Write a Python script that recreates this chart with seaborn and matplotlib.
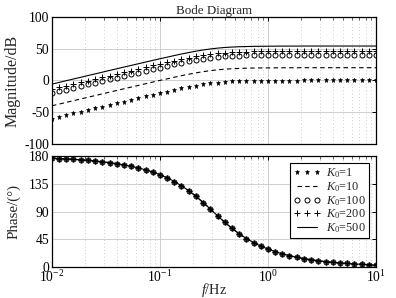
import numpy as np
import pandas as pd
import seaborn as sns
from matplotlib import pyplot as plt
import matplotlib.ticker as plticker

# frequency points (Hz)
freq = [0.01, 0.0117, 0.0136, 0.0158, 0.0185, 0.0215, 0.0251, 0.0293, 0.0341, 0.0398,
        0.0464, 0.0541, 0.0631, 0.0736, 0.0858, 0.1, 0.117, 0.136, 0.158, 0.185,
        0.215, 0.251, 0.293, 0.341, 0.398, 0.464, 0.541, 0.631, 0.736, 0.858,
        1.0, 1.17, 1.36, 1.58, 1.85, 2.15, 2.51, 2.93, 3.41, 3.98,
        4.64, 5.41, 6.31, 7.36, 8.58, 10.0]

mag_k1 = [-59.7, -57.0, -54.3, -51.7, -49.0, -46.3, -43.7, -41.0, -38.3, -35.7,
          -33.0, -30.4, -27.8, -25.1, -22.5, -19.9, -17.4, -14.9, -12.5, -10.2,
          -8.1, -6.2, -4.6, -3.3, -2.3, -1.6, -1.1, -0.8, -0.5, -0.4,
          -0.3, -0.2, -0.1, -0.1, -0.1, 0.0, 0.0, 0.0, 0.0, 0.0,
          0.0, 0.0, 0.0, 0.0, 0.0, 0.0]
mag_k10 = [-39.7, -37.0, -34.3, -31.7, -29.0, -26.3, -23.7, -21.0, -18.3, -15.7,
           -13.0, -10.4, -7.8, -5.1, -2.5, 0.1, 2.6, 5.1, 7.5, 9.8,
           11.9, 13.8, 15.4, 16.7, 17.7, 18.4, 18.9, 19.2, 19.5, 19.6,
           19.7, 19.8, 19.9, 19.9, 19.9, 20.0, 20.0, 20.0, 20.0, 20.0,
           20.0, 20.0, 20.0, 20.0, 20.0, 20.0]
mag_k100 = [-19.7, -17.0, -14.3, -11.7, -9.0, -6.3, -3.7, -1.0, 1.7, 4.3,
            7.0, 9.6, 12.2, 14.9, 17.5, 20.1, 22.6, 25.1, 27.5, 29.8,
            31.9, 33.8, 35.4, 36.7, 37.7, 38.4, 38.9, 39.2, 39.5, 39.6,
            39.7, 39.8, 39.9, 39.9, 39.9, 40.0, 40.0, 40.0, 40.0, 40.0,
            40.0, 40.0, 40.0, 40.0, 40.0, 40.0]
mag_k200 = [-13.7, -11.0, -8.3, -5.7, -3.0, -0.3, 2.3, 5.0, 7.7, 10.3,
            13.0, 15.6, 18.2, 20.9, 23.5, 26.1, 28.6, 31.1, 33.5, 35.8,
            37.9, 39.8, 41.4, 42.7, 43.7, 44.4, 44.9, 45.2, 45.5, 45.6,
            45.7, 45.8, 45.9, 45.9, 45.9, 46.0, 46.0, 46.0, 46.0, 46.0,
            46.0, 46.0, 46.0, 46.0, 46.0, 46.0]
mag_k500 = [-5.7, -3.0, -0.3, 2.3, 5.0, 7.7, 10.3, 13.0, 15.7, 18.3,
            21.0, 23.6, 26.2, 28.9, 31.5, 34.1, 36.6, 39.1, 41.5, 43.8,
            45.9, 47.8, 49.4, 50.7, 51.7, 52.4, 52.9, 53.2, 53.5, 53.6,
            53.7, 53.8, 53.9, 53.9, 53.9, 54.0, 54.0, 54.0, 54.0, 54.0,
            54.0, 54.0, 54.0, 54.0, 54.0, 54.0]
# phase is the same for every K0
phase = [177.0, 176.6, 176.0, 175.3, 174.5, 173.6, 172.6, 171.3, 169.9, 168.2,
         166.2, 163.9, 161.2, 158.1, 154.4, 150.1, 145.0, 139.0, 132.1, 124.1,
         114.9, 104.8, 94.1, 83.1, 72.5, 62.6, 53.8, 46.0, 39.4, 33.6,
         28.8, 24.6, 21.1, 18.0, 15.4, 13.2, 11.3, 9.7, 8.3, 7.1,
         6.1, 5.3, 4.5, 3.9, 3.3, 2.8]

labels = [r"$K_0$=1", r"$K_0$=10", r"$K_0$=100", r"$K_0$=200", r"$K_0$=500"]
mags = [mag_k1, mag_k10, mag_k100, mag_k200, mag_k500]

sns.set_style("white")
plt.rcParams["font.family"] = ["Liberation Serif", "DejaVu Serif"]
plt.rcParams["mathtext.fontset"] = "custom"
plt.rcParams["mathtext.rm"] = "Liberation Serif"
plt.rcParams["mathtext.it"] = "Liberation Serif:italic"
plt.rcParams["axes.unicode_minus"] = False
fs = 9.8

styles = [
    dict(marker="*", linestyle="none", markersize=3.6, markerfacecolor="black",
         markeredgecolor="black", markeredgewidth=0.4),
    dict(linestyle=(0, (4, 3)), linewidth=0.8),
    dict(marker="o", linestyle="none", markersize=3.6, markerfacecolor="none",
         markeredgecolor="black", markeredgewidth=0.7),
    dict(marker="+", linestyle="none", markersize=3.8, markeredgecolor="black",
         markeredgewidth=0.7),
    dict(linestyle="-", linewidth=0.8),
]


def style_axes(ax):
    ax.set_xscale("log")
    ax.set_xlim(0.01, 10)
    ax.xaxis.set_minor_locator(plticker.LogLocator(base=10, subs=np.arange(2, 10)))
    ax.xaxis.set_minor_formatter(plticker.NullFormatter())
    ax.grid(True, which="major", color="#c8c8c8", linewidth=0.6, linestyle="-")
    ax.grid(True, which="minor", axis="x", color="#bdbdbd", linewidth=0.6, linestyle=(0, (1, 3)))
    ax.set_axisbelow(True)
    ax.tick_params(which="major", direction="in", length=3, width=0.7,
                   top=True, right=True, labelsize=fs, pad=2, colors="black")
    ax.tick_params(which="minor", direction="in", length=1.8, width=0.5,
                   top=True, right=True)
    for sp in ax.spines.values():
        sp.set_color("black")
        sp.set_linewidth(0.9)


fig = plt.figure(figsize=(3.96, 2.98), dpi=100)
ax1 = fig.add_axes([0.1313, 0.516, 0.8182, 0.428])
ax2 = fig.add_axes([0.1313, 0.105, 0.8182, 0.370])

for m, lab, st in zip(mags, labels, styles):
    sns.lineplot(x=freq, y=m, ax=ax1, color="black", label=lab, legend=False, **st)
    sns.lineplot(x=freq, y=phase, ax=ax2, color="black", label=lab, legend=False, **st)

style_axes(ax1)
ax1.set_ylim(-100, 100)
ax1.set_yticks([-100, -50, 0, 50, 100])
ax1.tick_params(labelbottom=False)
ax1.set_ylabel("Magnitude/dB", fontsize=11.5)
ax1.yaxis.set_label_coords(-0.098, 0.5)
ax1.set_title("Bode Diagram", fontsize=9.4, pad=1)

style_axes(ax2)
ax2.set_ylim(0, 180)
ax2.set_yticks([0, 45, 90, 135, 180])
ax2.tick_params(axis="x", pad=1.5)
ax2.set_ylabel("Phase/(°)", fontsize=10.8)
ax2.yaxis.set_label_coords(-0.098, 0.5)
ax2.set_xlabel(r"$f$/Hz", fontsize=10.4)
ax2.xaxis.set_label_coords(0.5, -0.128)
ax2.xaxis.label.set_verticalalignment("top")

leg = ax2.legend(loc="upper right", numpoints=3, fontsize=8.8, frameon=True,
                 fancybox=False, edgecolor="black", framealpha=1,
                 handlelength=2.2, handletextpad=0.5, labelspacing=0.0,
                 borderpad=0.25, borderaxespad=0.55)
leg.get_frame().set_linewidth(0.8)

plt.savefig("out.png", dpi=100)
print("Figure saved.")
